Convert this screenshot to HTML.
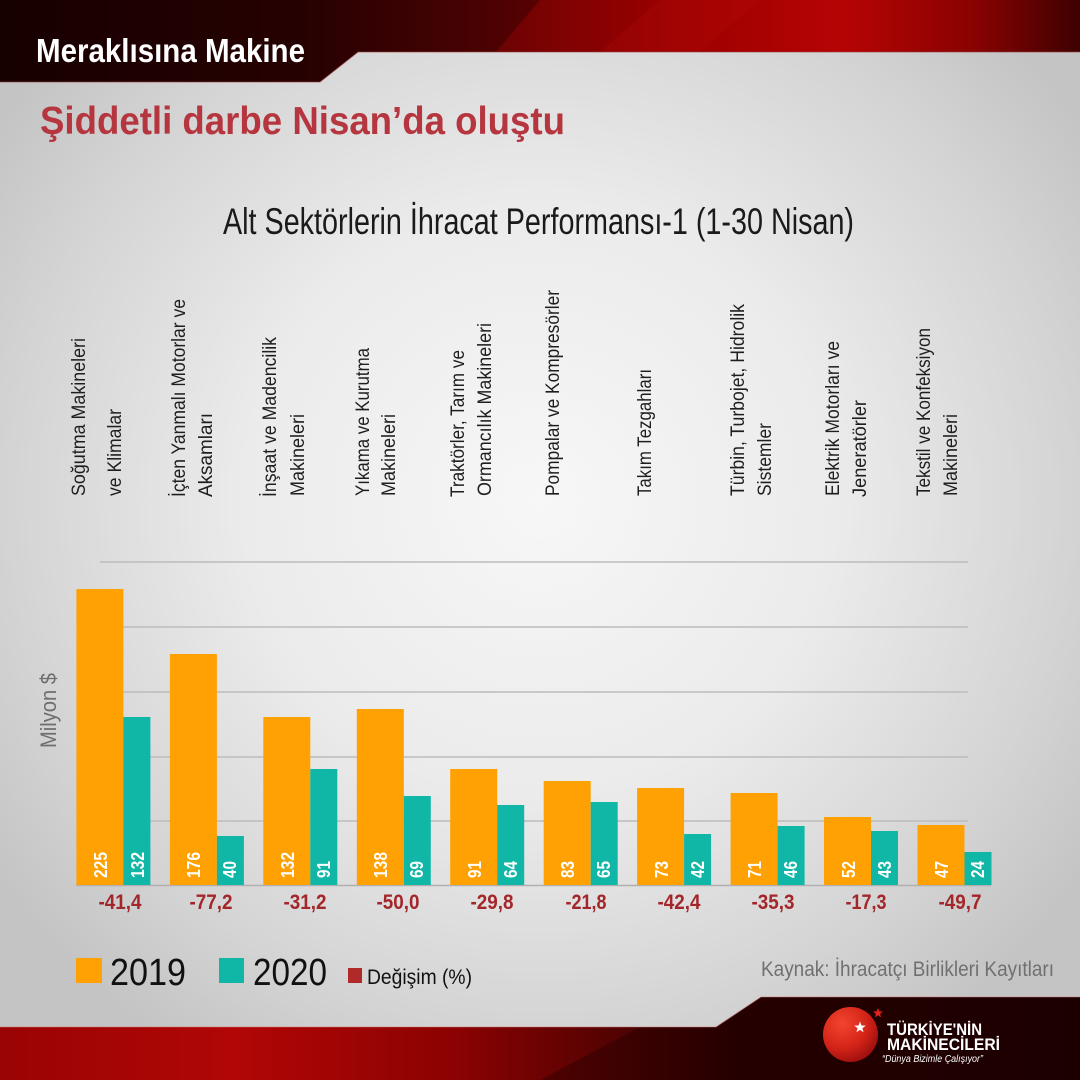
<!DOCTYPE html>
<html>
<head>
<meta charset="utf-8">
<style>
  html,body{margin:0;padding:0;background:#d8d8d8;}
  svg{display:block;}
  text{font-family:"Liberation Sans","DejaVu Sans",sans-serif;}
</style>
</head>
<body>
<svg width="1080" height="1080" viewBox="0 0 1080 1080" xmlns="http://www.w3.org/2000/svg">
  <defs>
    <radialGradient id="bg" cx="540" cy="500" r="660" gradientUnits="userSpaceOnUse">
      <stop offset="0" stop-color="#f7f7f7"/>
      <stop offset="0.45" stop-color="#ebebeb"/>
      <stop offset="0.8" stop-color="#d4d4d4"/>
      <stop offset="1" stop-color="#c4c4c4"/>
    </radialGradient>
    <linearGradient id="hdr" x1="0" y1="0" x2="1080" y2="0" gradientUnits="userSpaceOnUse">
      <stop offset="0" stop-color="#160101"/>
      <stop offset="0.28" stop-color="#2e0203"/>
      <stop offset="0.42" stop-color="#5a0405"/>
      <stop offset="0.5" stop-color="#7a0202"/>
      <stop offset="0.62" stop-color="#9a0000"/>
      <stop offset="0.78" stop-color="#b60404"/>
      <stop offset="0.9" stop-color="#8a0202"/>
      <stop offset="1" stop-color="#3e0101"/>
    </linearGradient>
    <linearGradient id="ftr" x1="0" y1="0" x2="1080" y2="0" gradientUnits="userSpaceOnUse">
      <stop offset="0" stop-color="#9a0404"/>
      <stop offset="0.22" stop-color="#b10606"/>
      <stop offset="0.42" stop-color="#8c0202"/>
      <stop offset="0.55" stop-color="#5a0202"/>
      <stop offset="0.68" stop-color="#2c0101"/>
      <stop offset="1" stop-color="#1e0101"/>
    </linearGradient>
    <radialGradient id="logo" cx="0.35" cy="0.3" r="0.75">
      <stop offset="0" stop-color="#f2452f"/>
      <stop offset="0.6" stop-color="#d42418"/>
      <stop offset="1" stop-color="#9c0e0e"/>
    </radialGradient>
  </defs>

  <!-- background -->
  <rect x="0" y="0" width="1080" height="1080" fill="url(#bg)"/>

  <!-- header band -->
  <polygon points="0,0 1080,0 1080,52 358,52 320,82 0,82" fill="url(#hdr)"/>
  <polygon points="345,0 540,0 496,52 358,52 320,82 0,82 0,0" fill="#1a0101" opacity="0.35"/>
  <polygon points="660,0 760,0 700,52 600,52" fill="#c01010" opacity="0.18"/>
  <polyline points="1080,52 358,52 320,82 0,82" fill="none" stroke="#9a3a3a" stroke-width="1" opacity="0.6"/>
  <text x="36" y="62" font-size="33" font-weight="bold" fill="#ffffff" textLength="269" lengthAdjust="spacingAndGlyphs">Meraklısına Makine</text>

  <!-- title -->
  <text x="40" y="134" font-size="39" font-weight="bold" fill="#b5363f" textLength="525" lengthAdjust="spacingAndGlyphs">Şiddetli darbe Nisan’da oluştu</text>

  <!-- subtitle -->
  <text x="223" y="234" font-size="37" fill="#1a1a1a" textLength="631" lengthAdjust="spacingAndGlyphs">Alt Sektörlerin İhracat Performansı-1 (1-30 Nisan)</text>

  <!-- category labels (rotated) -->
  <g font-size="19.5" fill="#1e1e1e">
    <text transform="translate(85,496) rotate(-90)" textLength="158" lengthAdjust="spacingAndGlyphs">Soğutma Makineleri</text>
    <text transform="translate(121,496) rotate(-90)" textLength="87" lengthAdjust="spacingAndGlyphs">ve Klimalar</text>

    <text transform="translate(185,497) rotate(-90)" textLength="198" lengthAdjust="spacingAndGlyphs">İçten Yanmalı Motorlar ve</text>
    <text transform="translate(212,497) rotate(-90)" textLength="84" lengthAdjust="spacingAndGlyphs">Aksamları</text>

    <text transform="translate(276,497) rotate(-90)" textLength="160" lengthAdjust="spacingAndGlyphs">İnşaat ve Madencilik</text>
    <text transform="translate(304,496) rotate(-90)" textLength="82" lengthAdjust="spacingAndGlyphs">Makineleri</text>

    <text transform="translate(369,496) rotate(-90)" textLength="148" lengthAdjust="spacingAndGlyphs">Yıkama ve Kurutma</text>
    <text transform="translate(395,496) rotate(-90)" textLength="82" lengthAdjust="spacingAndGlyphs">Makineleri</text>

    <text transform="translate(464,497) rotate(-90)" textLength="147" lengthAdjust="spacingAndGlyphs">Traktörler, Tarım ve</text>
    <text transform="translate(491,496) rotate(-90)" textLength="173" lengthAdjust="spacingAndGlyphs">Ormancılık Makineleri</text>

    <text transform="translate(559,496) rotate(-90)" textLength="206" lengthAdjust="spacingAndGlyphs">Pompalar ve Kompresörler</text>

    <text transform="translate(651,496) rotate(-90)" textLength="127" lengthAdjust="spacingAndGlyphs">Takım Tezgahları</text>

    <text transform="translate(744,496) rotate(-90)" textLength="192" lengthAdjust="spacingAndGlyphs">Türbin, Turbojet, Hidrolik</text>
    <text transform="translate(771,496) rotate(-90)" textLength="73" lengthAdjust="spacingAndGlyphs">Sistemler</text>

    <text transform="translate(839,496) rotate(-90)" textLength="155" lengthAdjust="spacingAndGlyphs">Elektrik Motorları ve</text>
    <text transform="translate(866,497) rotate(-90)" textLength="97" lengthAdjust="spacingAndGlyphs">Jeneratörler</text>

    <text transform="translate(930,496) rotate(-90)" textLength="168" lengthAdjust="spacingAndGlyphs">Tekstil ve Konfeksiyon</text>
    <text transform="translate(957,496) rotate(-90)" textLength="82" lengthAdjust="spacingAndGlyphs">Makineleri</text>
  </g>

  <!-- y-axis label -->
  <text transform="translate(56,748) rotate(-90)" font-size="22" fill="#6e6e6e" textLength="75" lengthAdjust="spacingAndGlyphs">Milyon $</text>

  <!-- gridlines -->
  <g stroke="#bcbcbc" stroke-width="1.6">
    <line x1="100" y1="562" x2="968" y2="562"/>
    <line x1="100" y1="627" x2="968" y2="627"/>
    <line x1="100" y1="692" x2="968" y2="692"/>
    <line x1="100" y1="757" x2="968" y2="757"/>
    <line x1="100" y1="821" x2="968" y2="821"/>
  </g>
  <line x1="76" y1="885.5" x2="991" y2="885.5" stroke="#b0b0b0" stroke-width="1.6"/>

  <!-- bars -->
  <g fill="#ffa102">
    <rect x="76.4" y="589" width="47" height="296"/>
    <rect x="169.9" y="654" width="47" height="231"/>
    <rect x="263.3" y="717" width="47" height="168"/>
    <rect x="356.8" y="709" width="47" height="176"/>
    <rect x="450.2" y="769" width="47" height="116"/>
    <rect x="543.7" y="781" width="47" height="104"/>
    <rect x="637.1" y="788" width="47" height="97"/>
    <rect x="730.6" y="793" width="47" height="92"/>
    <rect x="824.0" y="817" width="47" height="68"/>
    <rect x="917.5" y="825" width="47" height="60"/>
  </g>
  <g fill="#10b6a6">
    <rect x="123.4" y="717" width="27" height="168"/>
    <rect x="216.9" y="836" width="27" height="49"/>
    <rect x="310.3" y="769" width="27" height="116"/>
    <rect x="403.8" y="796" width="27" height="89"/>
    <rect x="497.2" y="805" width="27" height="80"/>
    <rect x="590.7" y="802" width="27" height="83"/>
    <rect x="684.1" y="834" width="27" height="51"/>
    <rect x="777.6" y="826" width="27" height="59"/>
    <rect x="871.0" y="831" width="27" height="54"/>
    <rect x="964.5" y="852" width="27" height="33"/>
  </g>

  <!-- value labels (rotated) -->
  <g font-size="18" font-weight="bold" fill="#ffffff">
    <text transform="translate(107,878) rotate(-90)" textLength="26" lengthAdjust="spacingAndGlyphs">225</text>
    <text transform="translate(144,878) rotate(-90)" textLength="26" lengthAdjust="spacingAndGlyphs">132</text>
    <text transform="translate(200,878) rotate(-90)" textLength="26" lengthAdjust="spacingAndGlyphs">176</text>
    <text transform="translate(236,878) rotate(-90)" textLength="17" lengthAdjust="spacingAndGlyphs">40</text>
    <text transform="translate(294,878) rotate(-90)" textLength="26" lengthAdjust="spacingAndGlyphs">132</text>
    <text transform="translate(330,878) rotate(-90)" textLength="17" lengthAdjust="spacingAndGlyphs">91</text>
    <text transform="translate(387,878) rotate(-90)" textLength="26" lengthAdjust="spacingAndGlyphs">138</text>
    <text transform="translate(423,878) rotate(-90)" textLength="17" lengthAdjust="spacingAndGlyphs">69</text>
    <text transform="translate(481,878) rotate(-90)" textLength="17" lengthAdjust="spacingAndGlyphs">91</text>
    <text transform="translate(517,878) rotate(-90)" textLength="17" lengthAdjust="spacingAndGlyphs">64</text>
    <text transform="translate(574,878) rotate(-90)" textLength="17" lengthAdjust="spacingAndGlyphs">83</text>
    <text transform="translate(610,878) rotate(-90)" textLength="17" lengthAdjust="spacingAndGlyphs">65</text>
    <text transform="translate(668,878) rotate(-90)" textLength="17" lengthAdjust="spacingAndGlyphs">73</text>
    <text transform="translate(704,878) rotate(-90)" textLength="17" lengthAdjust="spacingAndGlyphs">42</text>
    <text transform="translate(761,878) rotate(-90)" textLength="17" lengthAdjust="spacingAndGlyphs">71</text>
    <text transform="translate(797,878) rotate(-90)" textLength="17" lengthAdjust="spacingAndGlyphs">46</text>
    <text transform="translate(855,878) rotate(-90)" textLength="17" lengthAdjust="spacingAndGlyphs">52</text>
    <text transform="translate(891,878) rotate(-90)" textLength="17" lengthAdjust="spacingAndGlyphs">43</text>
    <text transform="translate(948,878) rotate(-90)" textLength="17" lengthAdjust="spacingAndGlyphs">47</text>
    <text transform="translate(984,878) rotate(-90)" textLength="17" lengthAdjust="spacingAndGlyphs">24</text>
  </g>

  <!-- change labels -->
  <g font-size="21" font-weight="bold" fill="#a3262a" text-anchor="middle">
    <text x="120" y="909" textLength="43" lengthAdjust="spacingAndGlyphs">-41,4</text>
    <text x="211" y="909" textLength="43" lengthAdjust="spacingAndGlyphs">-77,2</text>
    <text x="305" y="909" textLength="43" lengthAdjust="spacingAndGlyphs">-31,2</text>
    <text x="398" y="909" textLength="43" lengthAdjust="spacingAndGlyphs">-50,0</text>
    <text x="492" y="909" textLength="43" lengthAdjust="spacingAndGlyphs">-29,8</text>
    <text x="586" y="909" textLength="41" lengthAdjust="spacingAndGlyphs">-21,8</text>
    <text x="679" y="909" textLength="43" lengthAdjust="spacingAndGlyphs">-42,4</text>
    <text x="773" y="909" textLength="43" lengthAdjust="spacingAndGlyphs">-35,3</text>
    <text x="866" y="909" textLength="41" lengthAdjust="spacingAndGlyphs">-17,3</text>
    <text x="960" y="909" textLength="43" lengthAdjust="spacingAndGlyphs">-49,7</text>
  </g>

  <!-- legend -->
  <rect x="76" y="958" width="26" height="25" fill="#ffa102"/>
  <text x="110" y="985" font-size="38" fill="#111111" textLength="76" lengthAdjust="spacingAndGlyphs">2019</text>
  <rect x="219" y="958" width="25" height="25" fill="#10b6a6"/>
  <text x="253" y="985" font-size="38" fill="#111111" textLength="74" lengthAdjust="spacingAndGlyphs">2020</text>
  <rect x="348" y="968" width="14" height="15" fill="#b02a2a"/>
  <text x="367" y="984" font-size="21" fill="#111111" textLength="105" lengthAdjust="spacingAndGlyphs">Değişim (%)</text>

  <text x="761" y="976" font-size="21" fill="#707070" textLength="293" lengthAdjust="spacingAndGlyphs">Kaynak: İhracatçı Birlikleri Kayıtları</text>

  <!-- footer band -->
  <polygon points="0,1027 716,1027 761,997 1080,997 1080,1080 0,1080" fill="url(#ftr)"/>
  <polygon points="540,1080 640,1027 716,1027 761,997 1080,997 1080,1080" fill="#1a0101" opacity="0.35"/>
  <polyline points="0,1027 716,1027 761,997 1080,997" fill="none" stroke="#d07070" stroke-width="1" opacity="0.5"/>

  <!-- logo -->
  <circle cx="850.5" cy="1034.5" r="27.5" fill="url(#logo)"/>
  <polygon fill="#ffffff" points="860,1021.5 861.5,1025.5 865.8,1025.6 862.4,1028.2 863.6,1032.3 860,1029.9 856.4,1032.3 857.6,1028.2 854.2,1025.6 858.5,1025.5"/>
  <polygon fill="#e4231b" points="878,1008 879.3,1011.4 883,1011.5 880.1,1013.8 881.1,1017.4 878,1015.3 874.9,1017.4 875.9,1013.8 873,1011.5 876.7,1011.4"/>
  <text x="887" y="1035" font-size="17" font-weight="bold" fill="#ffffff" textLength="95" lengthAdjust="spacingAndGlyphs">TÜRKİYE'NİN</text>
  <text x="887" y="1050" font-size="17" font-weight="bold" fill="#ffffff" textLength="113" lengthAdjust="spacingAndGlyphs">MAKİNECİLERİ</text>
  <text x="882" y="1062" font-size="10" font-style="italic" fill="#ffffff" textLength="101" lengthAdjust="spacingAndGlyphs">“Dünya Bizimle Çalışıyor”</text>
</svg>
</body>
</html>
